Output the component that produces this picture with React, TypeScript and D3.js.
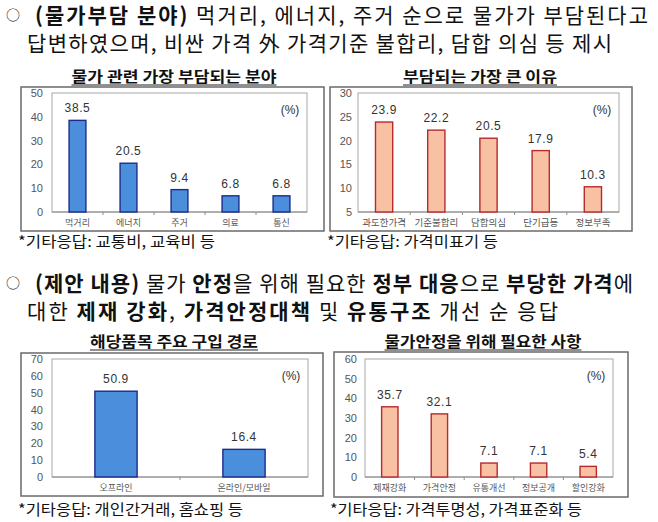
import React from 'react';
import * as d3 from 'd3';

const cats1 = ['먹거리', '에너지', '주거', '의료', '통신'];
const vals1 = [38.5, 20.5, 9.4, 6.8, 6.8];
const ticks1 = [0, 10, 20, 30, 40, 50];

const cats2 = ['과도한가격', '기준불합리', '담합의심', '단기급등', '정보부족'];
const vals2 = [23.9, 22.2, 20.5, 17.9, 10.3];
const ticks2 = [5, 10, 15, 20, 25, 30];

const cats3 = ['오프라인', '온라인/모바일'];
const vals3 = [50.9, 16.4];
const ticks3 = [0, 10, 20, 30, 40, 50, 60, 70];

const cats4 = ['제재강화', '가격안정', '유통개선', '정보공개', '할인강화'];
const vals4 = [35.7, 32.1, 7.1, 7.1, 5.4];
const ticks4 = [0, 10, 20, 30, 40, 50, 60];

const KR = "'Noto Sans CJK KR', 'Noto Sans', sans-serif";
const NUM = "'Liberation Sans', Arial, sans-serif";

const BLUE = '#4a8edc';
const BLUE_S = '#1d2b8a';
const ORANGE = '#f8c1a3';
const ORANGE_S = '#b82a2c';

type ChartProps = {
  cats: string[];
  vals: number[];
  ticks: number[];
  frame: [number, number, number, number];
  plot: [number, number, number, number];
  fill: string;
  stroke: string;
  catSize: number;
  tickGap: number;
  title: string;
  titleCx: number;
  titleW: number;
  titleY: number;
  note: string;
  noteX: number;
  noteW: number;
  noteY: number;
};

function BarChart(p: ChartProps) {
  const [px0, py0, px1, py1] = p.plot;
  const [fx0, fy0, fx1, fy1] = p.frame;
  const x = d3.scaleBand<string>().domain(p.cats).range([px0, px1]);
  const y = d3
    .scaleLinear()
    .domain([p.ticks[0], p.ticks[p.ticks.length - 1]])
    .range([py1, py0]);
  const bw = x.bandwidth() * 0.33;
  const bounds = p.cats.slice(1).map((c) => x(c) as number);
  return (
    <g>
      <text
        x={p.titleCx - p.titleW / 2}
        y={p.titleY}
        textLength={p.titleW}
        lengthAdjust="spacingAndGlyphs"
        fontFamily={KR}
        fontWeight="bold"
        fontSize={15}
        fill="#111"
      >
        {p.title}
      </text>
      <line
        x1={p.titleCx - p.titleW / 2}
        x2={p.titleCx + p.titleW / 2}
        y1={p.titleY + 3}
        y2={p.titleY + 3}
        stroke="#222"
        strokeWidth={1.2}
      />
      <rect
        x={fx0}
        y={fy0}
        width={fx1 - fx0}
        height={fy1 - fy0}
        fill="#fff"
        stroke="#6a6a6a"
        strokeWidth={1.5}
      />
      <rect
        x={px0}
        y={py0}
        width={px1 - px0}
        height={py1 - py0}
        fill="#fff"
        stroke="#a8a8a8"
        strokeWidth={1}
      />
      <line x1={px0} x2={px1} y1={py1} y2={py1} stroke="#8a8a8a" strokeWidth={1.2} />
      {bounds.map((b, i) => (
        <line key={i} x1={b} x2={b} y1={py1} y2={py1 + 3} stroke="#8a8a8a" strokeWidth={1} />
      ))}
      {p.ticks.map((t) => (
        <text
          key={t}
          x={px0 - p.tickGap}
          y={y(t)}
          textAnchor="end"
          dominantBaseline="central"
          fontFamily={NUM}
          fontSize={11}
          fill="#555"
        >
          {t}
        </text>
      ))}
      {p.cats.map((c, i) => {
        const cx = (x(c) as number) + x.bandwidth() / 2;
        const top = y(p.vals[i]);
        return (
          <g key={c}>
            <rect
              x={cx - bw / 2}
              y={top}
              width={bw}
              height={py1 - top}
              fill={p.fill}
              stroke={p.stroke}
              strokeWidth={1.4}
            />
            <text
              x={cx}
              y={top - 8}
              textAnchor="middle"
              fontFamily={NUM}
              fontSize={12}
              letterSpacing={0.6}
              fill="#333"
            >
              {p.vals[i].toFixed(1)}
            </text>
            <text
              x={cx}
              y={py1 + 10}
              textAnchor="middle"
              dominantBaseline="central"
              fontFamily={KR}
              fontSize={p.catSize}
              fill="#555"
            >
              {c}
            </text>
          </g>
        );
      })}
      <text
        x={px1 - 17}
        y={py0 + 17}
        textAnchor="middle"
        dominantBaseline="central"
        fontFamily={NUM}
        fontSize={12}
        fill="#333"
      >
        (%)
      </text>
      <text
        x={p.noteX}
        y={p.noteY}
        textLength={p.noteW}
        lengthAdjust="spacingAndGlyphs"
        fontFamily={KR}
        fontSize={15}
        fill="#111"
      >
        {p.note}
      </text>
    </g>
  );
}

export default function App() {
  return (
    <svg
      width={658}
      height={522}
      viewBox="0 0 658 522"
      style={{ position: 'absolute', left: 0, top: 0, background: '#fff' }}
    >
      <rect x={0} y={0} width={658} height={522} fill="#fff" />
      {/* Heading 1 */}
      <text x={13} y={20} textAnchor="middle" fontFamily={KR} fontSize={14} fill="#111">
        ○
      </text>
      <text x={35} y={22.5} textLength={613} lengthAdjust="spacing" fontFamily={KR} fontSize={21} fill="#111">
        <tspan fontWeight="bold">(물가부담 분야)</tspan>
        {' 먹거리, 에너지, 주거 순으로 물가가 부담된다고'}
      </text>
      <text x={27} y={50.5} textLength={585} lengthAdjust="spacing" fontFamily={KR} fontSize={21} fill="#111">
        답변하였으며, 비싼 가격 外 가격기준 불합리, 담합 의심 등 제시
      </text>

      {/* Heading 2 */}
      <text x={13} y={288} textAnchor="middle" fontFamily={KR} fontSize={14} fill="#111">
        ○
      </text>
      <text x={35} y={290.5} textLength={598} lengthAdjust="spacing" fontFamily={KR} fontSize={21} fill="#111">
        <tspan fontWeight="bold">(제안 내용)</tspan>
        {' 물가 '}
        <tspan fontWeight="bold">안정</tspan>
        {'을 위해 필요한 '}
        <tspan fontWeight="bold">정부 대응</tspan>
        {'으로 '}
        <tspan fontWeight="bold">부당한 가격</tspan>
        {'에'}
      </text>
      <text x={27} y={318.5} textLength={531} lengthAdjust="spacing" fontFamily={KR} fontSize={21} fill="#111">
        {'대한 '}
        <tspan fontWeight="bold">제재 강화</tspan>
        {', '}
        <tspan fontWeight="bold">가격안정대책</tspan>
        {' 및 '}
        <tspan fontWeight="bold">유통구조</tspan>
        {' 개선 순 응답'}
      </text>

      <BarChart
        cats={cats1}
        vals={vals1}
        ticks={ticks1}
        frame={[21, 87, 324, 231]}
        plot={[52, 93, 307, 212]}
        fill={BLUE}
        stroke={BLUE_S}
        catSize={9}
        tickGap={9}
        title="물가 관련 가장 부담되는 분야"
        titleCx={174}
        titleW={205}
        titleY={82}
        note="*기타응답: 교통비, 교육비 등"
        noteX={18}
        noteW={197}
        noteY={247}
      />
      <BarChart
        cats={cats2}
        vals={vals2}
        ticks={ticks2}
        frame={[330, 87, 632, 231]}
        plot={[358, 93, 619, 212]}
        fill={ORANGE}
        stroke={ORANGE_S}
        catSize={9.5}
        tickGap={6}
        title="부담되는 가장 큰 이유"
        titleCx={480}
        titleW={154}
        titleY={82}
        note="*기타응답: 가격미표기 등"
        noteX={327}
        noteW={171}
        noteY={247}
      />
      <BarChart
        cats={cats3}
        vals={vals3}
        ticks={ticks3}
        frame={[21, 353, 323, 496]}
        plot={[52, 359, 308, 477]}
        fill={BLUE}
        stroke={BLUE_S}
        catSize={9}
        tickGap={9}
        title="해당품목 주요 구입 경로"
        titleCx={174}
        titleW={168}
        titleY={347}
        note="*기타응답: 개인간거래, 홈쇼핑 등"
        noteX={18}
        noteW={225}
        noteY={515}
      />
      <BarChart
        cats={cats4}
        vals={vals4}
        ticks={ticks4}
        frame={[334, 352, 628, 497]}
        plot={[365, 359, 613, 477]}
        fill={ORANGE}
        stroke={ORANGE_S}
        catSize={9}
        tickGap={8}
        title="물가안정을 위해 필요한 사항"
        titleCx={483}
        titleW={197}
        titleY={347}
        note="*기타응답: 가격투명성, 가격표준화 등"
        noteX={330}
        noteW={252}
        noteY={515}
      />
    </svg>
  );
}
